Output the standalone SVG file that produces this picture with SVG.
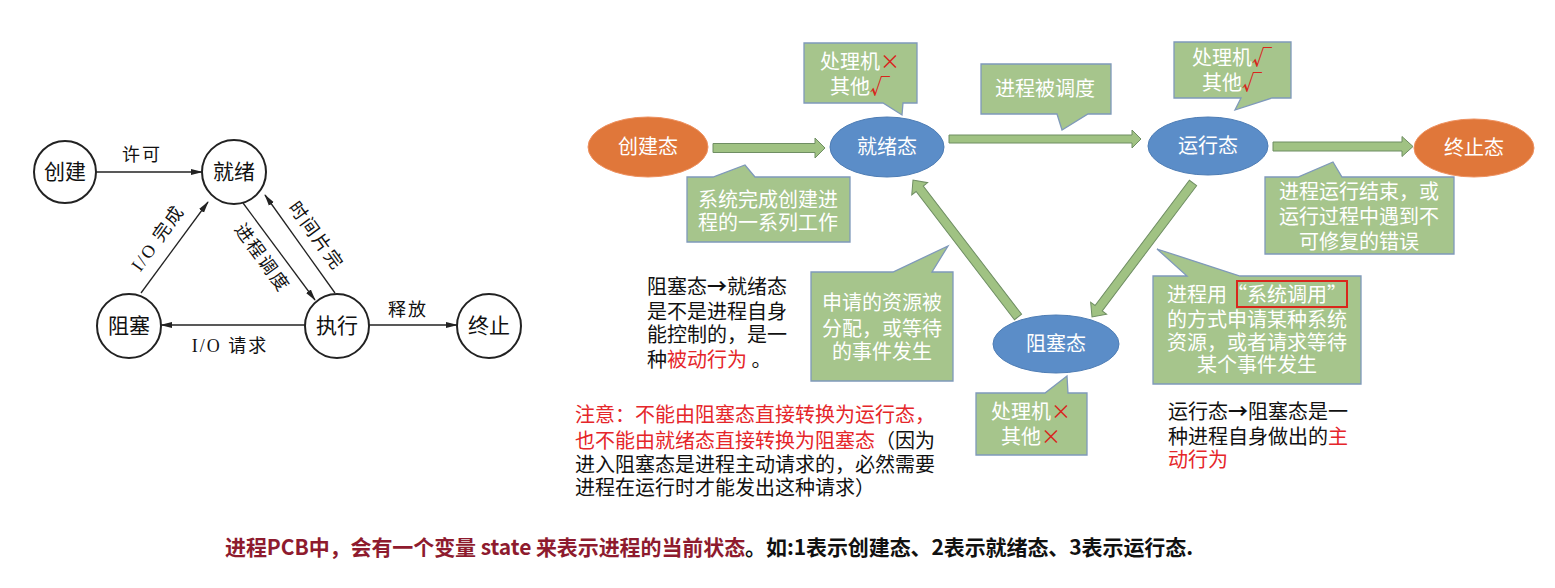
<svg xmlns="http://www.w3.org/2000/svg" width="1555" height="588" viewBox="0 0 1555 588">
<style>
.bg{fill:#fff}
.circ{fill:#fff;stroke:#222;stroke-width:2}
.ln{stroke:#222;stroke-width:1.3;fill:none;marker-end:url(#ah)}
.ntx{font-family:"Noto Sans CJK SC",sans-serif;font-size:21px;fill:#111;text-anchor:middle}
.ltx{font-family:"Liberation Serif","Noto Sans CJK SC",serif;font-size:18px;fill:#111;text-anchor:middle;letter-spacing:2px}
.ell-b{fill:#5B8DC8;stroke:#4E7DB5;stroke-width:1}
.ell-o{fill:#E0773A;stroke:#EE9160;stroke-width:1}
.etx{font-family:"Noto Sans CJK SC",sans-serif;font-size:20px;fill:#fff;text-anchor:middle}
.call{fill:#A6C58C;stroke:#7F99BA;stroke-width:1.3}
.ctx{font-family:"Noto Sans CJK SC",sans-serif;font-size:20px;fill:#fff;text-anchor:middle}
.barrow{fill:#A0C283;stroke:#6F8E63;stroke-width:1}
.red{fill:#D9261C}
.btx{font-family:"Noto Sans CJK SC",sans-serif;font-size:20px;fill:#111}
.r2{fill:#E5262A}
.arr{font-weight:bold}
.bottom{font-family:"Noto Sans CJK SC",sans-serif;font-size:21px;font-weight:bold}
</style>
<defs>
<marker id="ah" markerWidth="12" markerHeight="8" refX="11" refY="4" orient="auto" markerUnits="userSpaceOnUse"><path d="M0,1 L12,4 L0,7 z" fill="#222"/></marker>
</defs>
<rect class="bg" x="0" y="0" width="1555" height="588"/>

<!-- Left diagram -->
<g id="left-connectors">
<line class="ln" x1="96" y1="172" x2="202" y2="172"/>
<line class="ln" x1="141" y1="293" x2="208" y2="202"/>
<line class="ln" x1="243" y1="203" x2="315" y2="300"/>
<line class="ln" x1="335" y1="293" x2="265" y2="195"/>
<line class="ln" x1="305" y1="325" x2="161" y2="325"/>
<line class="ln" x1="368" y1="325" x2="457" y2="325"/>
<text class="ltx" x="142" y="161">许可</text>
<text class="ltx" transform="translate(158,238) rotate(-54)" x="0" y="6">I/O 完成</text>
<text class="ltx" transform="translate(262,258) rotate(54)" x="0" y="6">进程调度</text>
<text class="ltx" transform="translate(316,236) rotate(54)" x="0" y="6">时间片完</text>
<text class="ltx" x="230" y="352">I/O 请求</text>
<text class="ltx" x="408" y="316">释放</text>
</g>
<g id="l-create"><circle class="circ" cx="65" cy="172" r="31"/><text class="ntx" x="65" y="179">创建</text></g>
<g id="l-ready"><circle class="circ" cx="234" cy="172" r="32"/><text class="ntx" x="234" y="179">就绪</text></g>
<g id="l-block"><circle class="circ" cx="129" cy="326" r="32"/><text class="ntx" x="129" y="333">阻塞</text></g>
<g id="l-run"><circle class="circ" cx="337" cy="326" r="32"/><text class="ntx" x="337" y="333">执行</text></g>
<g id="l-end"><circle class="circ" cx="489" cy="326" r="32"/><text class="ntx" x="489" y="333">终止</text></g>

<!-- Right diagram connectors -->
<g id="connectors">
<polygon class="barrow" points="713,143.5 815,143.5 815,138 825,148 815,158 815,152.5 713,152.5"/>
<polygon class="barrow" points="949,135 1132,135 1132,130 1141,139 1132,148 1132,143 949,143"/>
<polygon class="barrow" points="1273,142 1402,142 1402,136.5 1413,146.5 1402,156.5 1402,151 1273,151"/>
<polygon class="barrow" transform="translate(1018,317) rotate(-127.47)" points="0,-4.5 161.6,-4.5 161.6,-10 172.6,0 161.6,10 161.6,4.5 0,4.5"/>
<polygon class="barrow" transform="translate(1193,183) rotate(127)" points="0,-4.5 156.8,-4.5 156.8,-10 167.8,0 156.8,10 156.8,4.5 0,4.5"/>
</g>

<!-- States -->
<g id="s-create"><ellipse class="ell-o" cx="648" cy="147" rx="60" ry="30"/><text class="etx" x="648" y="154">创建态</text></g>
<g id="s-ready"><ellipse class="ell-b" cx="887" cy="147" rx="57" ry="30"/><text class="etx" x="887" y="154">就绪态</text></g>
<g id="s-run"><ellipse class="ell-b" cx="1208" cy="146" rx="60" ry="29"/><text class="etx" x="1208" y="153">运行态</text></g>
<g id="s-end"><ellipse class="ell-o" cx="1474" cy="148" rx="60" ry="29"/><text class="etx" x="1474" y="155">终止态</text></g>
<g id="s-block"><ellipse class="ell-b" cx="1056" cy="344" rx="63" ry="29"/><text class="etx" x="1056" y="351">阻塞态</text></g>

<!-- Callouts -->
<g id="c-ready-res">
<polygon class="call" points="804,43 917,43 917,103 903,103 902,115 883,103 804,103"/>
<text class="ctx" x="860" y="69">处理机<tspan class="red">×</tspan></text>
<text class="ctx" x="860" y="94">其他<tspan class="red" font-weight="bold">√</tspan></text>
</g>
<g id="c-create">
<polygon class="call" points="687,177 713,177 745,165 755,177 850,177 850,242 687,242"/>
<text class="ctx" x="768" y="207">系统完成创建进</text>
<text class="ctx" x="768" y="230">程的一系列工作</text>
</g>
<g id="c-sched">
<polygon class="call" points="981,64 1111,64 1111,114 1088,114 1062,130 1057,114 981,114"/>
<text class="ctx" x="1045" y="96">进程被调度</text>
</g>
<g id="c-run-res">
<polygon class="call" points="1174,42 1291,42 1291,98 1272,98 1235,110 1241,98 1174,98"/>
<text class="ctx" x="1232" y="65">处理机<tspan class="red" font-weight="bold">√</tspan></text>
<text class="ctx" x="1232" y="90">其他<tspan class="red" font-weight="bold">√</tspan></text>
</g>
<g id="c-end">
<polygon class="call" points="1265,177 1298,177 1333,162 1342,177 1454,177 1454,254 1265,254"/>
<text class="ctx" x="1359" y="199">进程运行结束，或</text>
<text class="ctx" x="1359" y="224">运行过程中遇到不</text>
<text class="ctx" x="1359" y="249">可修复的错误</text>
</g>
<g id="c-wake">
<polygon class="call" points="811,272 893,272 948,246 932,272 953,272 953,381 811,381"/>
<text class="ctx" x="882" y="310">申请的资源被</text>
<text class="ctx" x="882" y="336">分配，或等待</text>
<text class="ctx" x="882" y="359">的事件发生</text>
</g>
<g id="c-block-res">
<polygon class="call" points="976,393 1045,393 1067,376 1068,393 1087,393 1087,455 976,455"/>
<text class="ctx" x="1031" y="419">处理机<tspan class="red">×</tspan></text>
<text class="ctx" x="1031" y="444">其他<tspan class="red">×</tspan></text>
</g>
<g id="c-syscall">
<polygon class="call" points="1153,276 1187,276 1157,249 1240,276 1361,276 1361,384 1153,384"/>
<rect x="1237" y="281" width="110" height="26" fill="none" stroke="#D9261C" stroke-width="2"/>
<text class="ctx" x="1257" y="302">进程用“系统调用”</text>
<text class="ctx" x="1257" y="327">的方式申请某种系统</text>
<text class="ctx" x="1257" y="350">资源，或者请求等待</text>
<text class="ctx" x="1257" y="372">某个事件发生</text>
</g>

<!-- Free texts -->
<g id="t-passive">
<text class="btx" x="647" y="294">阻塞态<tspan class="arr">→</tspan>就绪态</text>
<text class="btx" x="647" y="319">是不是进程自身</text>
<text class="btx" x="647" y="342">能控制的，是一</text>
<text class="btx" x="647" y="367">种<tspan class="r2">被动行为</tspan> 。</text>
</g>
<g id="t-note">
<text class="btx" x="575" y="422"><tspan class="r2">注意：不能由阻塞态直接转换为运行态，</tspan></text>
<text class="btx" x="575" y="448"><tspan class="r2">也不能由就绪态直接转换为阻塞态</tspan>（因为</text>
<text class="btx" x="575" y="472">进入阻塞态是进程主动请求的，必然需要</text>
<text class="btx" x="575" y="495">进程在运行时才能发出这种请求）</text>
</g>
<g id="t-active">
<text class="btx" x="1168" y="419">运行态<tspan class="arr">→</tspan>阻塞态是一</text>
<text class="btx" x="1168" y="444">种进程自身做出的<tspan class="r2">主</tspan></text>
<text class="btx" x="1168" y="467"><tspan class="r2">动行为</tspan></text>
</g>
<g id="t-bottom">
<text class="bottom" x="225" y="555" textLength="968" lengthAdjust="spacing"><tspan fill="#8E1B2E">进程PCB中，会有一个变量 state 来表示进程的当前状态</tspan><tspan fill="#111">。如:1表示创建态、2表示就绪态、3表示运行态.</tspan></text>
</g>
</svg>
